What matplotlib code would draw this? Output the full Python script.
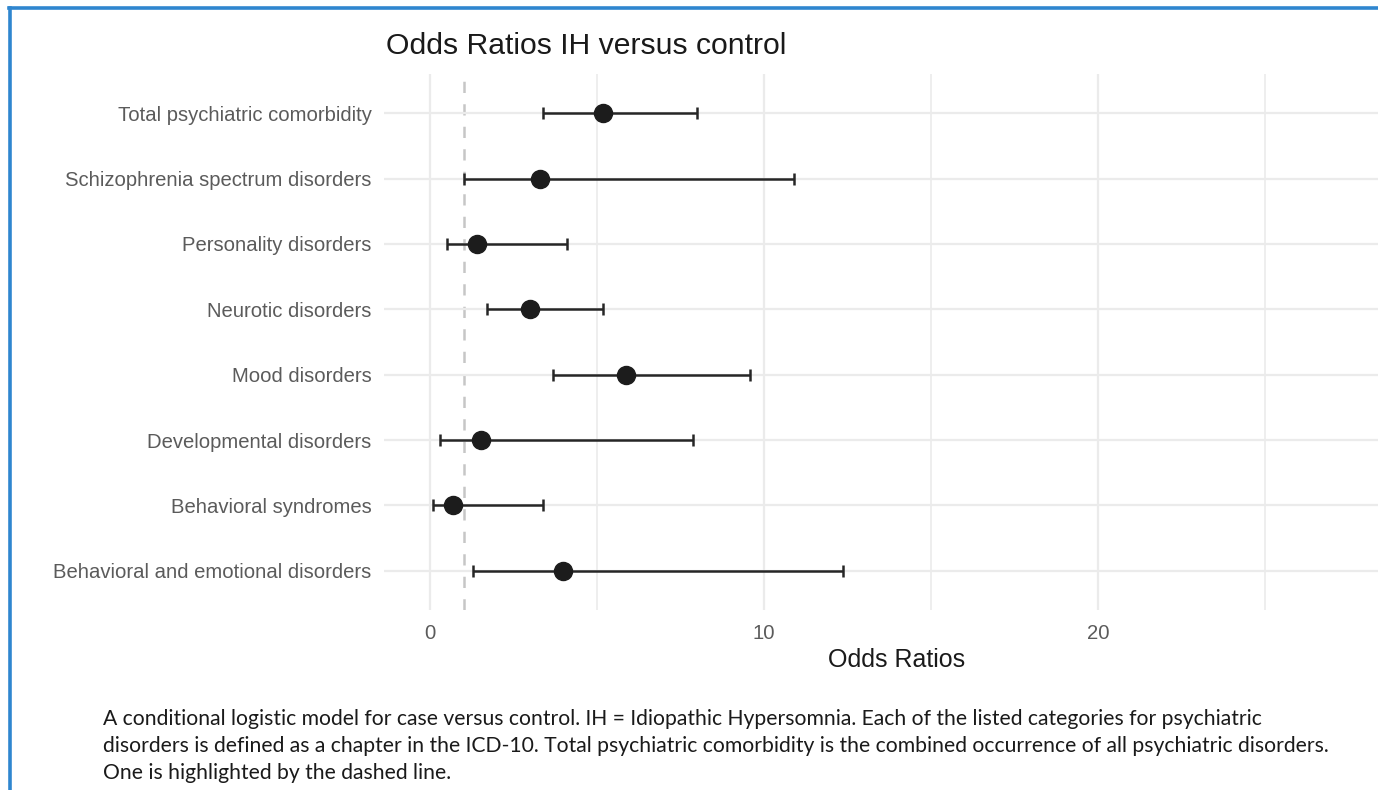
import matplotlib
matplotlib.use("Agg")
import matplotlib.pyplot as plt
from matplotlib.lines import Line2D
from matplotlib.ticker import MultipleLocator

# Odds ratios with 95% confidence intervals, top row first
categories = [
    "Total psychiatric comorbidity",
    "Schizophrenia spectrum disorders",
    "Personality disorders",
    "Neurotic disorders",
    "Mood disorders",
    "Developmental disorders",
    "Behavioral syndromes",
    "Behavioral and emotional disorders",
]
odds_ratio = [5.18, 3.29, 1.40, 2.99, 5.87, 1.51, 0.70, 3.99]
ci_lower = [3.39, 1.00, 0.50, 1.70, 3.67, 0.30, 0.10, 1.29]
ci_upper = [7.99, 10.88, 4.09, 5.17, 9.58, 7.87, 3.39, 12.37]

x_ticks = [0, 10, 20]
reference_line = 1.0

title = "Odds Ratios IH versus control"
x_label = "Odds Ratios"
caption = ("A conditional logistic model for case versus control. IH = Idiopathic Hypersomnia. "
           "Each of the listed categories for psychiatric\n"
           "disorders is defined as a chapter in the ICD-10. Total psychiatric comorbidity is the "
           "combined occurrence of all psychiatric disorders.\n"
           "One is highlighted by the dashed line.")

W, H = 1378, 790
fig = plt.figure(figsize=(W / 100, H / 100), dpi=100)
fig.patch.set_facecolor("white")

# panel geometry in pixels (right edge runs past the figure)
left_px, right_px, top_px, bottom_px = 384, 1410, 74, 610
ax = fig.add_axes([left_px / W, 1 - bottom_px / H,
                   (right_px - left_px) / W, (bottom_px - top_px) / H])

n = len(categories)
ypos = [n - i for i in range(n)]

grid_col = "#ebebeb"
ax.xaxis.set_major_locator(MultipleLocator(10))
ax.xaxis.set_minor_locator(MultipleLocator(5))
ax.set_xticks(x_ticks)
ax.set_xticklabels([str(t) for t in x_ticks])
ax.grid(axis="x", which="major", color=grid_col, lw=1.6, zorder=0)
ax.grid(axis="x", which="minor", color=grid_col, lw=1.2, zorder=0)
ax.grid(axis="y", which="major", color=grid_col, lw=1.6, zorder=0)

ax.axvline(reference_line, color="#c6c6c6", lw=1.8, ls=(0, (4.5, 4.5)), zorder=1)

xerr = [[o - lo for o, lo in zip(odds_ratio, ci_lower)],
        [hi - o for o, hi in zip(odds_ratio, ci_upper)]]
ax.errorbar(odds_ratio, ypos, xerr=xerr, fmt="none", ecolor="#262626",
            elinewidth=1.8, capsize=4.5, capthick=1.8, zorder=2)
ax.plot(odds_ratio, ypos, "o", color="#1c1c1c", ms=13, zorder=3)

ax.set_xlim(-1.38, 29.33)
ax.set_ylim(0.4, n + 0.6)
ax.set_yticks(ypos)
ax.set_yticklabels(categories)

for s in ax.spines.values():
    s.set_visible(False)
ax.tick_params(axis="both", which="both", length=0)
ax.tick_params(axis="y", pad=9, labelsize=14.6, labelcolor="#5b5b5b")
ax.tick_params(axis="x", pad=10, labelsize=14.6, labelcolor="#5b5b5b")
for lab in ax.get_yticklabels() + ax.get_xticklabels():
    lab.set_fontfamily("Liberation Sans")

ax.set_xlabel(x_label, fontsize=18, family="Liberation Sans", color="#1a1a1a", labelpad=4)

fig.text(386 / W, 1 - 46 / H, title, fontsize=21.7, family="Liberation Sans",
         color="#1a1a1a", ha="left", va="center")

fig.text(103 / W, 1 - 746 / H, caption, fontsize=15.2, family="Lato",
         color="#1a1a1a", ha="left", va="center", linespacing=1.43)

# frame lines along the top and left edges
border = "#2f86cf"
fig.add_artist(Line2D([9 / W, 1], [1 - 8 / H, 1 - 8 / H], color=border, lw=2.6,
                      transform=fig.transFigure))
fig.add_artist(Line2D([9.5 / W, 9.5 / W], [0, 1 - 8 / H], color=border, lw=2.6,
                      transform=fig.transFigure))

fig.savefig("out.png", dpi=100, facecolor="white")
